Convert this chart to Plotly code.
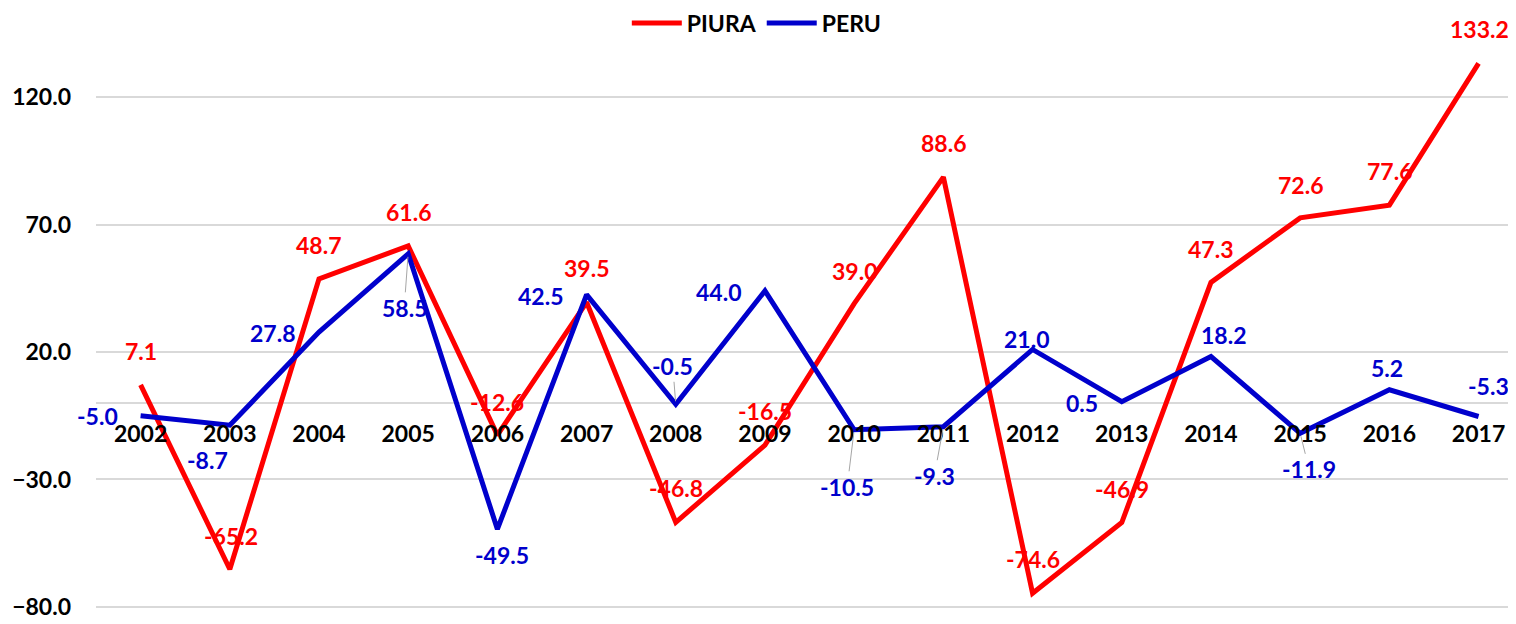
import plotly.graph_objects as go

# ---- data ----
years = ["2002", "2003", "2004", "2005", "2006", "2007", "2008", "2009",
         "2010", "2011", "2012", "2013", "2014", "2015", "2016", "2017"]
piura = [7.1, -65.2, 48.7, 61.6, -12.6, 39.5, -46.8, -16.5,
         39.0, 88.6, -74.6, -46.9, 47.3, 72.6, 77.6, 133.2]
peru = [-5.0, -8.7, 27.8, 58.5, -49.5, 42.5, -0.5, 44.0,
        -10.5, -9.3, 21.0, 0.5, 18.2, -11.9, 5.2, -5.3]
y_ticks = [-80, -30, 20, 70, 120]

# ---- styles / label placement (pixels; dy positive = up) ----
RED = "#FF0000"
BLUE = "#0000CC"
GRID = "#D9D9D9"
FONT = "Lato"
FS = 23

piura_off = [(0, 34), (1, 33), (0, 34), (0, 34), (0, 33), (0, 34), (0, 34), (0, 34),
             (0, 33), (0, 34), (0, 34), (0, 34), (0, 33), (0, 33), (0, 34), (1, 34)]
peru_off = [(-43, 0), (-22, -35), (-46, -1), (-4, -54), (5, -26), (-46, -1), (-3, 38), (-46, -1),
            (-7, -57), (-9, -49), (-6, 10), (-40, -1), (13, 22), (9, -36), (-2, 22), (10, 31)]
peru_leader = {3, 6, 8, 9, 13}

fig = go.Figure()
fig.add_trace(go.Scatter(x=years, y=piura, name="PIURA", mode="lines",
                         line=dict(color=RED, width=5)))
fig.add_trace(go.Scatter(x=years, y=peru, name="PERU", mode="lines",
                         line=dict(color=BLUE, width=5)))

annotations = []
for i, v in enumerate(piura):
    dx, dy = piura_off[i]
    annotations.append(dict(x=i, y=v, xref="x", yref="y", text=f"{v:.1f}", showarrow=False,
                            xshift=dx, yshift=dy,
                            font=dict(family=FONT, size=FS, color=RED, weight="bold")))
for i, v in enumerate(peru):
    dx, dy = peru_off[i]
    if i in peru_leader:
        annotations.append(dict(x=i, y=v, xref="x", yref="y", text=f"{v:.1f}", showarrow=True,
                                ax=dx, ay=-dy, arrowhead=0, arrowwidth=1,
                                arrowcolor="#A6A6A6", standoff=3,
                                font=dict(family=FONT, size=FS, color=BLUE, weight="bold")))
    else:
        annotations.append(dict(x=i, y=v, xref="x", yref="y", text=f"{v:.1f}", showarrow=False,
                                xshift=dx, yshift=dy,
                                font=dict(family=FONT, size=FS, color=BLUE, weight="bold")))

y_min, y_max = -80.4, 145.5

fig.update_layout(
    width=1500, height=608,
    margin=dict(l=88, r=0, t=24, b=8, pad=0, autoexpand=False),
    plot_bgcolor="white", paper_bgcolor="white",
    showlegend=True,
    legend=dict(orientation="h", x=0.468, xanchor="center", y=1.0155, yanchor="middle",
                font=dict(family=FONT, size=FS, color="black", weight="bold"),
                itemwidth=50, tracegroupgap=0),
    annotations=annotations,
    xaxis=dict(type="category", range=[-0.5, 15.33], anchor="free",
               position=(0 - y_min) / (y_max - y_min),
               showline=False, showgrid=False, zeroline=False, ticks="",
               ticklabelstandoff=15,
               tickfont=dict(family=FONT, size=FS, color="black", weight="bold")),
    yaxis=dict(range=[y_min, y_max], tickvals=y_ticks, tickformat=".1f",
               showgrid=True, gridcolor=GRID, gridwidth=1.5,
               zeroline=True, zerolinecolor=GRID, zerolinewidth=1.5,
               showline=False, ticks="", ticklabelstandoff=24,
               ticklabeloverflow="allow",
               tickfont=dict(family=FONT, size=FS, color="black", weight="bold")),
)

fig.write_html("out.html")
